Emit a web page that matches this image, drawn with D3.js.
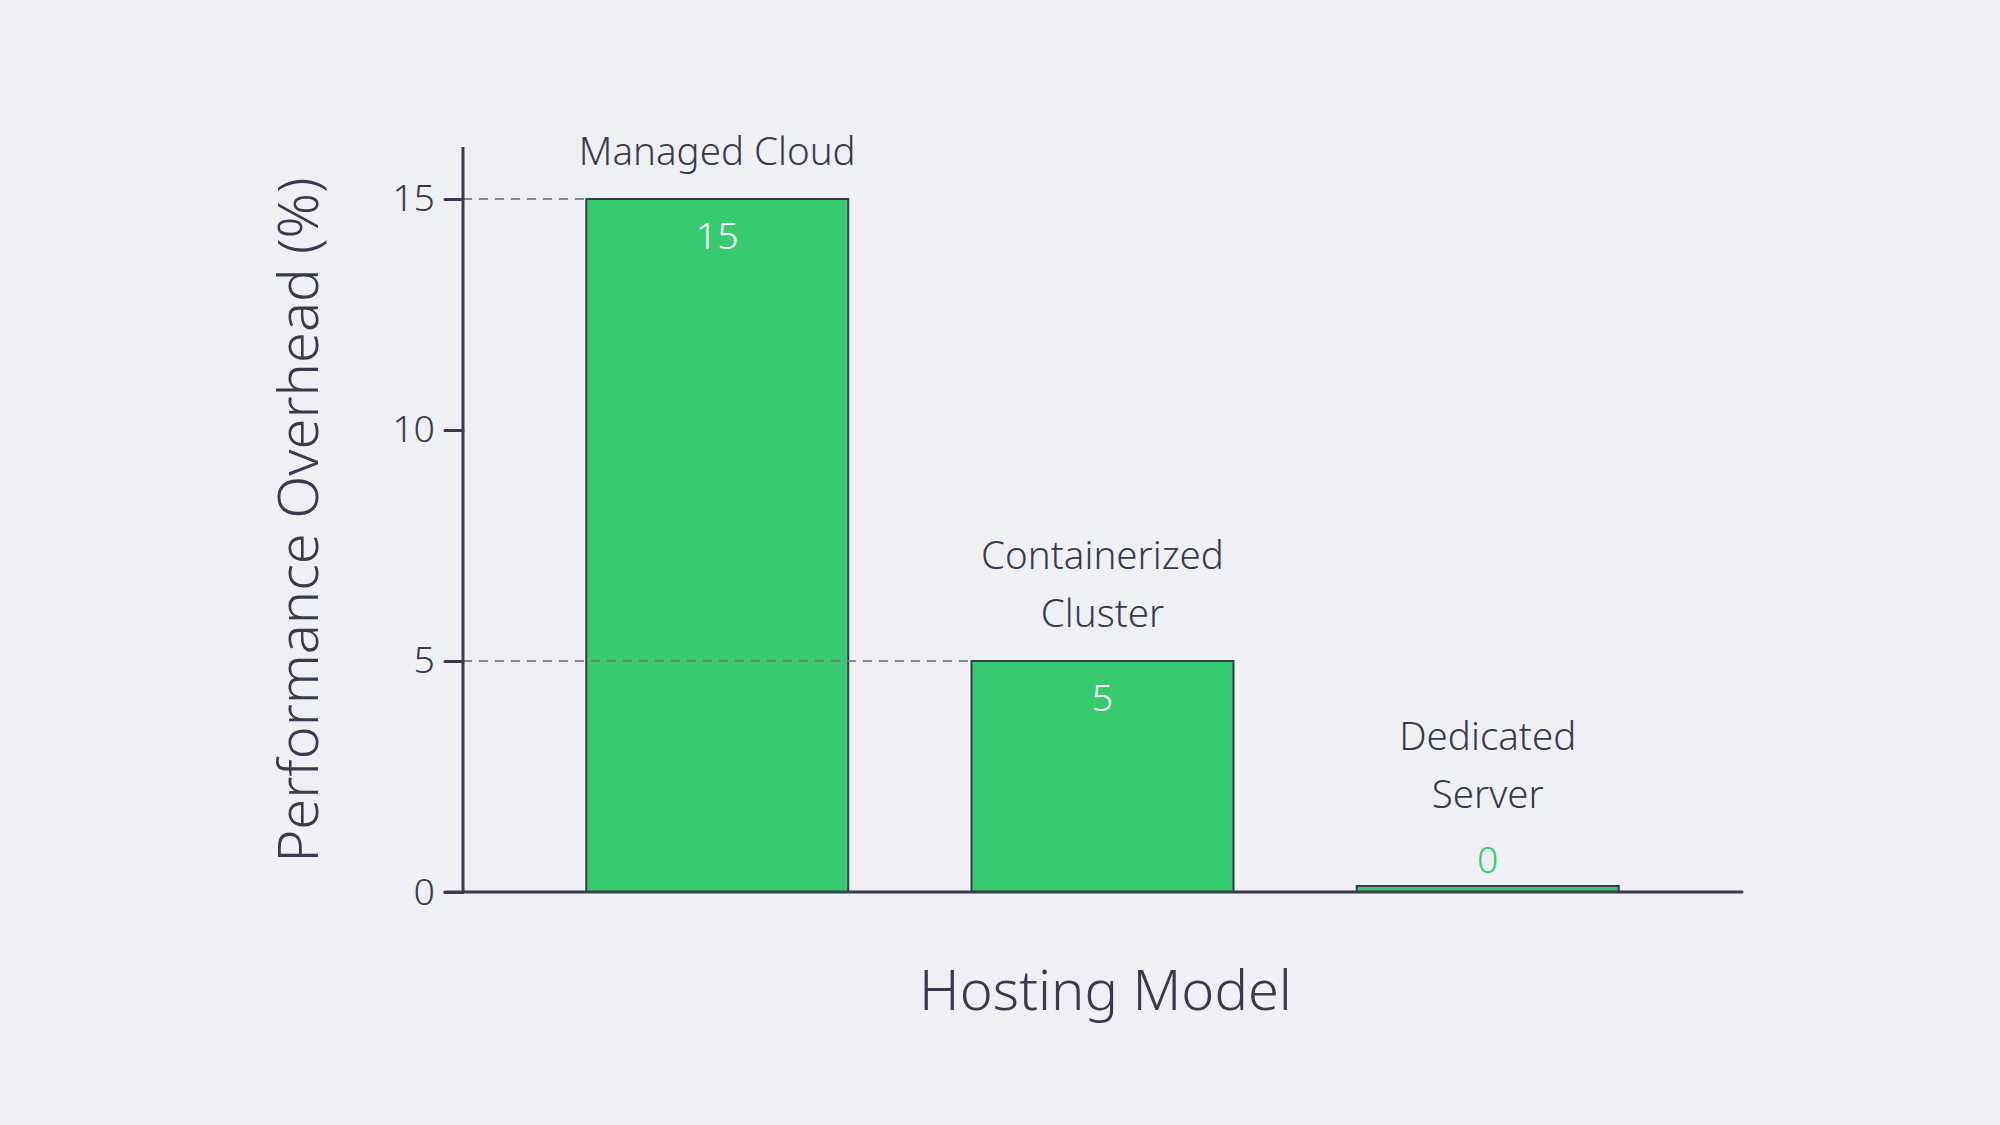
<!DOCTYPE html>
<html>
<head>
<meta charset="utf-8">
<script src="https://cdn.jsdelivr.net/npm/d3@7/dist/d3.min.js"></script>
<style>
  html, body { margin: 0; padding: 0; background: #eff0f4; }
  svg { display: block; font-family: "Noto Sans", sans-serif; font-weight: 350; }
</style>
</head>
<body>
<svg id="chart" width="2000" height="1125"></svg>
<script>
const categories = ["Managed Cloud", "Containerized Cluster", "Dedicated Server"];
const categoryLines = [["Managed Cloud"], ["Containerized", "Cluster"], ["Dedicated", "Server"]];
const values = [15, 5, 0];
const yTicks = [0, 5, 10, 15];
const xTitle = "Hosting Model";
const yTitle = "Performance Overhead (%)";

const W = 2000, H = 1125;
const margin = { left: 463, right: 258, top: 147, bottom: 233 };
const ink = "#3a3a4c";
const green = "#37ca71";
const fs = 37.5;
const catFs = 38.5;

const svg = d3.select("#chart");
svg.append("rect").attr("width", W).attr("height", H).attr("fill", "#eff0f4");

const x = d3.scaleBand()
  .domain(categories)
  .range([margin.left, W - margin.right])
  .paddingInner(0.32)
  .paddingOuter(0.32);

const y = d3.scaleLinear()
  .domain([0, d3.max(values) * 1.075])
  .range([H - margin.bottom, margin.top]);

// bars
const minH = 6;
svg.append("g").selectAll("rect")
  .data(values)
  .join("rect")
  .attr("x", (d, i) => x(categories[i]))
  .attr("width", x.bandwidth())
  .attr("y", d => Math.min(y(d), y(0) - minH))
  .attr("height", d => Math.max(y(0) - y(d), minH))
  .attr("fill", green)
  .attr("stroke", ink)
  .attr("stroke-width", 2);

// dashed reference lines from axis to bar left edge (drawn over bars)
const g = svg.append("g");
values.forEach((v, i) => {
  if (v <= 0) return;
  g.append("line")
    .attr("x1", margin.left).attr("x2", x(categories[i]))
    .attr("y1", y(v)).attr("y2", y(v))
    .attr("stroke", "#70717d").attr("stroke-opacity", 0.8).attr("stroke-width", 2)
    .attr("stroke-dasharray", "9,7");
});

// y axis
const yAxis = d3.axisLeft(y).tickValues(yTicks).tickSize(18).tickPadding(10).tickFormat(d3.format("d"));
const ya = svg.append("g").attr("transform", `translate(${margin.left},0)`).call(yAxis);
ya.select(".domain").remove();
ya.selectAll(".tick line").attr("stroke", ink).attr("stroke-width", 3).attr("stroke-linecap", "round");
ya.selectAll(".tick text").attr("fill", ink).attr("font-size", fs).attr("font-family", "Noto Sans").attr("font-weight", 350);
ya.append("line")
  .attr("x1", 0).attr("x2", 0)
  .attr("y1", margin.top).attr("y2", y(0))
  .attr("stroke", ink).attr("stroke-width", 3);

// x axis baseline
svg.append("line")
  .attr("x1", margin.left - 18).attr("x2", W - margin.right)
  .attr("y1", y(0)).attr("y2", y(0))
  .attr("stroke", ink).attr("stroke-width", 3).attr("stroke-linecap", "round");

// value labels and category labels
const lineGap = 58;
values.forEach((v, i) => {
  const cx = x(categories[i]) + x.bandwidth() / 2;
  const top = Math.min(y(v), y(0) - minH);
  const inside = (y(0) - y(v)) > 80;
  let valBase;
  if (inside) {
    valBase = top + 50;
    svg.append("text").attr("x", cx).attr("y", valBase)
      .attr("text-anchor", "middle").attr("font-size", fs).attr("fill", "#ffffff").text(v);
  } else {
    valBase = top - 13;
    svg.append("text").attr("x", cx).attr("y", valBase)
      .attr("text-anchor", "middle").attr("font-size", fs).attr("fill", green).text(v);
  }
  const lines = categoryLines[i];
  const lastBase = inside ? top - 34 : valBase - 65;
  lines.forEach((ln, j) => {
    svg.append("text")
      .attr("x", cx)
      .attr("y", lastBase - (lines.length - 1 - j) * lineGap)
      .attr("text-anchor", "middle")
      .attr("font-size", catFs)
      .attr("fill", ink)
      .text(ln);
  });
});

// axis titles
svg.append("text")
  .attr("x", (margin.left + W - margin.right) / 2 + 3)
  .attr("y", 1010)
  .attr("text-anchor", "middle")
  .attr("font-size", 56)
  .attr("fill", ink)
  .text(xTitle);

svg.append("text")
  .attr("transform", `translate(318,520) rotate(-90)`)
  .attr("text-anchor", "middle")
  .attr("font-size", 56)
  .attr("fill", ink)
  .text(yTitle);
</script>
</body>
</html>
